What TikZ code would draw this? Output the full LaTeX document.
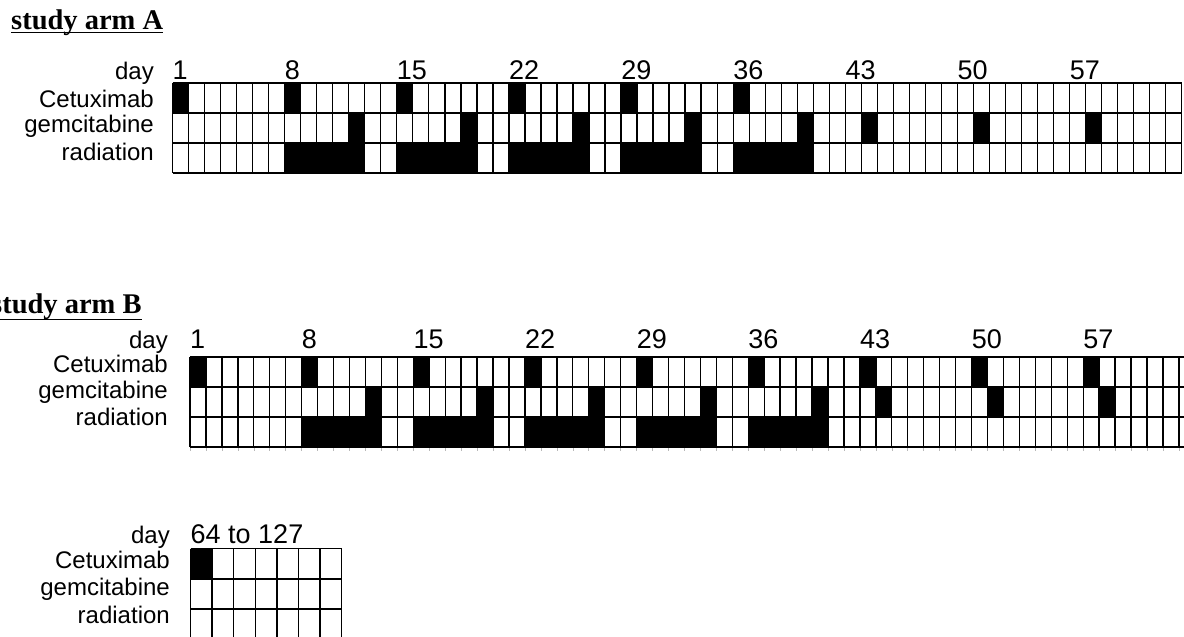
\documentclass[tikz,border=0pt]{standalone}
\usepackage{fontspec}
\setmainfont{Liberation Sans}
\newfontfamily\labfont{Liberation Sans}
\newfontfamily\ttlfont{Liberation Serif}
\begin{document}
\begin{tikzpicture}[x=1pt,y=-1pt,
  hl/.style={line width=1.9pt},
  vl/.style={line width=1.35pt},
  lab/.style={inner sep=0pt, anchor=base east, font=\labfont\fontsize{24}{26}\selectfont},
  num/.style={inner sep=0pt, anchor=base west, font=\labfont\fontsize{27}{29}\selectfont},
  ttl/.style={inner sep=0pt, anchor=base west, font=\ttlfont\bfseries\fontsize{28.5}{31}\selectfont},
  ul/.style={line width=1.8pt},
  tick/.style={draw=gray!55, line width=0.6pt}]
\useasboundingbox (0,0) rectangle (1184,637);
\clip (0,0) rectangle (1184,637);
\fill[white] (0,0) rectangle (1184,637);

% ---------------- study arm A ----------------
\def\xA{172.5}\def\wA{16.02}
\node[ttl] (titleA) at (11,30) {study arm A};
\coordinate (ulA) at (0,32.5);
\draw[ul] (titleA.west |- ulA) -- (titleA.east |- ulA);

\node[lab] (dayA) at (154,79) {day};
\node[lab] (cetA) at (154,107) {Cetuximab};
\node[lab] (gemA) at (154,132) {gemcitabine};
\node[lab] (radA) at (154,160) {radiation};
\foreach \d in {1,8,15,22,29,36,43,50,57}
  \node[num] (nA\d) at ({\xA+(\d-1)*\wA},79) {\d};

\foreach \d in {1,8,15,22,29,36}
  \fill ({\xA+(\d-1)*\wA},83) rectangle ({\xA+\d*\wA},113);
\foreach \d in {12,19,26,33,40,44,51,58}
  \fill ({\xA+(\d-1)*\wA},113) rectangle ({\xA+\d*\wA},143);
\foreach \a in {8,15,22,29,36}
  \fill ({\xA+(\a-1)*\wA},143) rectangle ({\xA+(\a+4)*\wA},173);
\foreach \i in {0,...,63}
  \draw[vl] ({\xA+\i*\wA},83) -- ({\xA+\i*\wA},173);
\foreach \y in {83,113,143,173}
  \draw[hl] (\xA,\y) -- ({\xA+63*\wA},\y);

% ---------------- study arm B ----------------
\def\xB{190}\def\wB{15.95}
\node[ttl] (titleB) at (-9,313) {study arm B};
\coordinate (ulB) at (0,319.5);
\draw[ul] (titleB.west |- ulB) -- (titleB.east |- ulB);

\node[lab] (dayB) at (168,348) {day};
\node[lab] (cetB) at (168,372) {Cetuximab};
\node[lab] (gemB) at (168,398) {gemcitabine};
\node[lab] (radB) at (168,425) {radiation};
\foreach \d in {1,8,15,22,29,36,43,50,57}
  \node[num] (nB\d) at ({\xB+(\d-1)*\wB},348) {\d};

\foreach \d in {1,8,15,22,29,36,43,50,57}
  \fill ({\xB+(\d-1)*\wB},357) rectangle ({\xB+\d*\wB},387);
\foreach \d in {12,19,26,33,40,44,51,58}
  \fill ({\xB+(\d-1)*\wB},387) rectangle ({\xB+\d*\wB},417);
\foreach \a in {8,15,22,29,36}
  \fill ({\xB+(\a-1)*\wB},417) rectangle ({\xB+(\a+4)*\wB},447);
\foreach \i in {0,...,63}{
  \draw[vl] ({\xB+\i*\wB},357) -- ({\xB+\i*\wB},447);
  \draw[tick] ({\xB+\i*\wB},448) -- ({\xB+\i*\wB},451);
}
\foreach \y in {357,387,417,447}
  \draw[hl] (\xB,\y) -- ({\xB+63*\wB},\y);

% ---------------- day 64 to 127 ----------------
\def\xC{190.5}\def\wC{21.6}
\node[lab] (dayC) at (170,543) {day};
\node[lab] (cetC) at (170,568) {Cetuximab};
\node[lab] (gemC) at (170,595) {gemcitabine};
\node[lab] (radC) at (170,623) {radiation};
\node[num] (nC) at (\xC,543) {64 to 127};

\fill (\xC,548.5) rectangle ({\xC+\wC},578.8);
\foreach \i in {0,...,7}
  \draw[vl] ({\xC+\i*\wC},548.5) -- ({\xC+\i*\wC},640);
\foreach \y in {548.5,578.8,609,639}
  \draw[hl] (\xC,\y) -- ({\xC+7*\wC},\y);
\end{tikzpicture}
\end{document}
